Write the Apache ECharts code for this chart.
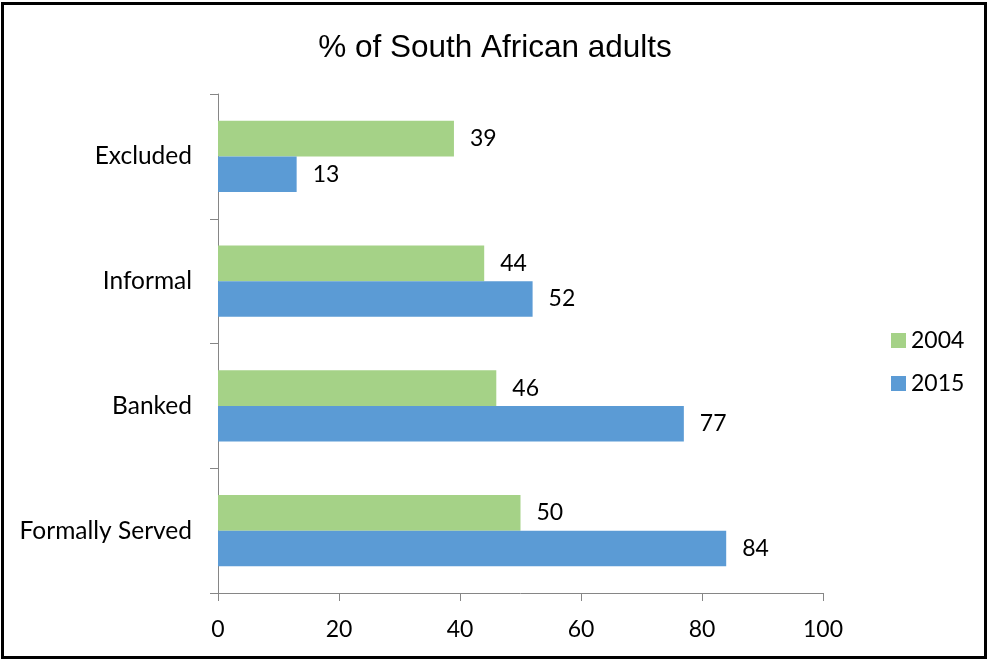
<!DOCTYPE html>
<html>
<head>
<meta charset="utf-8">
<script src="https://cdn.jsdelivr.net/npm/echarts@6/dist/echarts.min.js"></script>
<style>
  html, body { margin: 0; padding: 0; background: #fff; }
  #chart { width: 990px; height: 661px; }
</style>
</head>
<body>
<div id="chart"></div>
<script>
// Categories listed bottom to top (category axis starts at the bottom)
const categories = ['Formally Served', 'Banked', 'Informal', 'Excluded'];
const values2004 = [50, 46, 44, 39];
const values2015 = [84, 77, 52, 13];
const xTicks = { min: 0, max: 100, interval: 20 };

const labelFont = 'Lato, "Open Sans", sans-serif';
const axisGray = '#868686';

const chart = echarts.init(document.getElementById('chart'), null, { renderer: 'canvas' });

const barLabel = {
  show: true,
  position: 'right',
  distance: 16,
  color: '#000',
  fontFamily: labelFont,
  fontSize: 23
};

chart.setOption({
  animation: false,
  backgroundColor: '#fff',
  title: {
    text: '% of South African adults',
    left: 'center',
    top: 27,
    textStyle: {
      fontFamily: '"Liberation Sans", Arial, sans-serif',
      fontWeight: 'normal',
      fontSize: 31.5,
      color: '#000'
    }
  },
  grid: { left: 218, right: 167, top: 94, bottom: 68, containLabel: false },
  legend: {
    orient: 'vertical',
    left: 886,
    top: 324,
    itemWidth: 15,
    itemHeight: 15,
    itemGap: 20,
    data: ['2004', '2015'],
    textStyle: { fontFamily: labelFont, fontSize: 23, color: '#000' },
    icon: 'rect'
  },
  xAxis: {
    type: 'value',
    min: xTicks.min,
    max: xTicks.max,
    interval: xTicks.interval,
    axisLine: { show: true, lineStyle: { color: axisGray, width: 1 } },
    axisTick: { show: true, length: 8, lineStyle: { color: axisGray } },
    splitLine: { show: false },
    axisLabel: { color: '#000', fontFamily: labelFont, fontSize: 23, margin: 25 }
  },
  yAxis: {
    type: 'category',
    data: categories,
    axisLine: { show: true, lineStyle: { color: axisGray, width: 1 } },
    axisTick: { show: true, length: 8, lineStyle: { color: axisGray } },
    axisLabel: { color: '#000', fontFamily: labelFont, fontSize: 24.5, margin: 26 }
  },
  series: [
    {
      name: '2004',
      type: 'bar',
      data: values2004,
      barGap: '0%',
      barCategoryGap: '43%',
      itemStyle: { color: '#A5D287' },
      label: barLabel
    },
    {
      name: '2015',
      type: 'bar',
      data: values2015,
      barGap: '0%',
      barCategoryGap: '43%',
      itemStyle: { color: '#5B9BD5' },
      label: barLabel
    }
  ],
  graphic: [
    {
      type: 'rect',
      shape: { x: 2.5, y: 3.5, width: 983, height: 654 },
      style: { fill: 'none', stroke: '#000', lineWidth: 3 },
      silent: true
    }
  ]
});
</script>
</body>
</html>
